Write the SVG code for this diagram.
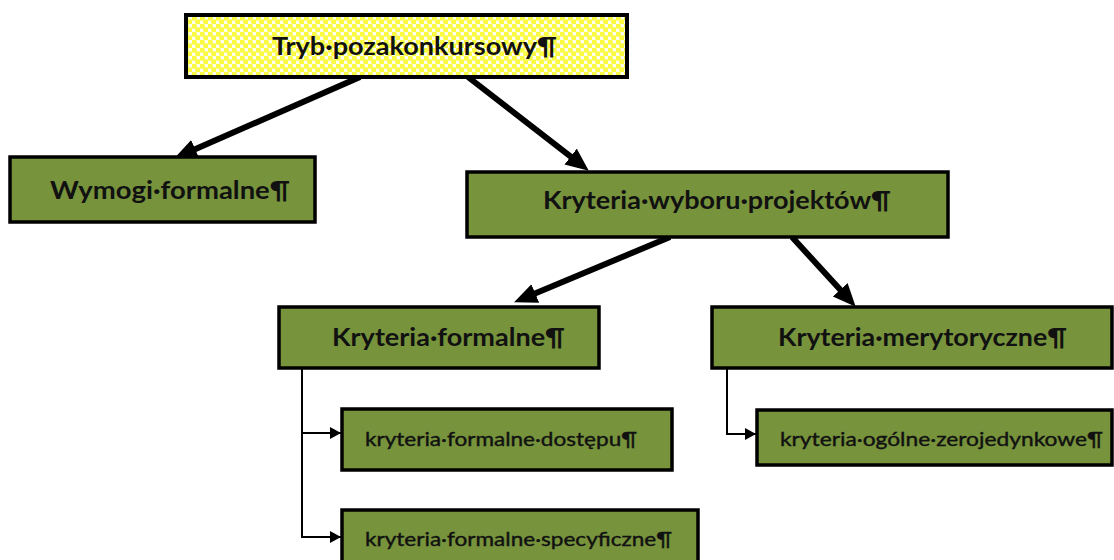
<svg xmlns="http://www.w3.org/2000/svg" width="1114" height="560" viewBox="0 0 1114 560">
<defs>
<pattern id="dots" width="8" height="8" patternUnits="userSpaceOnUse">
<rect width="8" height="8" fill="#FFFFF0"/>
<circle cx="2" cy="2" r="2.8" fill="#FAFA40"/>
<circle cx="6" cy="6" r="2.8" fill="#FAFA40"/>
</pattern>
<marker id="big" markerUnits="userSpaceOnUse" markerWidth="26" markerHeight="22" refX="12" refY="10" orient="auto">
<path d="M0,0 L23,10 L0,20 z" fill="#000"/>
</marker>
<marker id="small" markerUnits="userSpaceOnUse" markerWidth="12" markerHeight="12" refX="11" refY="6" orient="auto">
<path d="M0,0 L11,6 L0,12 z" fill="#000"/>
</marker>
</defs>
<style>
.box{fill:#77933C;stroke:#000;stroke-width:3.5}
.top{fill:url(#dots);stroke:#000;stroke-width:4}
.t{font-family:Lato,"Open Sans","Liberation Sans",sans-serif;font-weight:bold;font-size:24px;fill:#111}
.s{font-family:Lato,"Open Sans","Liberation Sans",sans-serif;font-size:20px;fill:#111;stroke:#111;stroke-width:0.4}
.thick{stroke:#000;stroke-width:6;fill:none;marker-end:url(#big)}
.thin{stroke:#000;stroke-width:2;fill:none;marker-end:url(#small)}
</style>
<rect width="1114" height="560" fill="#fff"/>
<g id="connectors">
<line class="thick" x1="360" y1="77" x2="184.2" y2="154"/>
<line class="thick" x1="468" y1="77" x2="580.1" y2="163.9"/>
<line class="thick" x1="670" y1="237" x2="524.2" y2="298.1"/>
<line class="thick" x1="792" y1="237" x2="848.3" y2="298.6"/>
<path class="thin" d="M302,368 V433 H341"/>
<path class="thin" d="M302,433 V537 H341"/>
<path class="thin" d="M727,368 V434 H756"/>
</g>
<g id="node-tryb">
<rect class="top" x="186" y="15" width="441" height="62"/>
<text class="t" x="272" y="55" textLength="285" lengthAdjust="spacingAndGlyphs">Tryb·pozakonkursowy¶</text>
</g>
<g id="node-wymogi">
<rect class="box" x="10" y="157" width="305" height="65"/>
<text class="t" x="50" y="199" textLength="240" lengthAdjust="spacingAndGlyphs">Wymogi·formalne¶</text>
</g>
<g id="node-wybor">
<rect class="box" x="467" y="172" width="481" height="65"/>
<text class="t" x="543" y="209" textLength="348" lengthAdjust="spacingAndGlyphs">Kryteria·wyboru·projektów¶</text>
</g>
<g id="node-formalne">
<rect class="box" x="279" y="307" width="320" height="61"/>
<text class="t" x="332" y="346" textLength="233" lengthAdjust="spacingAndGlyphs">Kryteria·formalne¶</text>
</g>
<g id="node-merytoryczne">
<rect class="box" x="712" y="307" width="400" height="61"/>
<text class="t" x="778" y="346" textLength="289" lengthAdjust="spacingAndGlyphs">Kryteria·merytoryczne¶</text>
</g>
<g id="node-dostepu">
<rect class="box" x="342" y="409" width="330" height="61"/>
<text class="s" x="365" y="446" textLength="272" lengthAdjust="spacingAndGlyphs">kryteria·formalne·dostępu¶</text>
</g>
<g id="node-specyficzne">
<rect class="box" x="342" y="510" width="356" height="60"/>
<text class="s" x="365" y="546" textLength="307" lengthAdjust="spacingAndGlyphs">kryteria·formalne·specyficzne¶</text>
</g>
<g id="node-ogolne">
<rect class="box" x="757" y="410" width="355" height="55"/>
<text class="s" x="780" y="446" textLength="323" lengthAdjust="spacingAndGlyphs">kryteria·ogólne·zerojedynkowe¶</text>
</g>
</svg>
